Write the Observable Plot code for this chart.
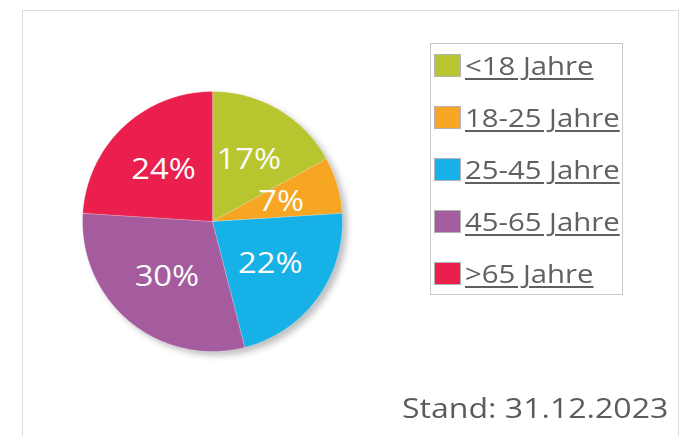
<!DOCTYPE html>
<html>
<head>
<meta charset="utf-8">
<script src="https://cdn.jsdelivr.net/npm/d3@7"></script>
<script src="https://cdn.jsdelivr.net/npm/@observablehq/plot@0.6"></script>
<style>
  html, body { margin: 0; padding: 0; background: #fff; }
  #wrap { position: relative; width: 699px; height: 436px; overflow: hidden; font-family: "Open Sans", sans-serif; }
  #frame { position: absolute; left: 22px; top: 10px; width: 657px; height: 460px; border: 1px solid #dcdcdc; box-sizing: border-box; }
  #chart { position: absolute; left: 0; top: 0; }
  #legend { position: absolute; left: 430px; top: 43px; width: 193px; height: 252px; border: 1px solid #c8c8c8; box-sizing: border-box; }
  .item { position: absolute; left: 3px; display: flex; align-items: center; height: 30px; }
  .sw { width: 27px; height: 23px; border: 1px solid #b4b4b4; box-sizing: border-box; margin-right: 4px; }
  .lab { display: inline-block; font-size: 25.5px; color: #5f6062; text-decoration: underline; text-decoration-thickness: 1.5px; text-underline-offset: 3px; white-space: nowrap; transform: scaleX(1.15); transform-origin: 0 50%; }
  #stand { position: absolute; left: 402px; top: 388px; font-size: 28px; line-height: normal; color: #5a5c60; white-space: nowrap; transform: scaleX(1.145); transform-origin: 0 50%; }
</style>
</head>
<body>
<div id="wrap">
  <div id="frame"></div>
  <div id="chart"></div>
  <div id="legend"></div>
  <div id="stand">Stand: 31.12.2023</div>
</div>
<script>
const categories = ["<18 Jahre", "18-25 Jahre", "25-45 Jahre", "45-65 Jahre", ">65 Jahre"];
const values = [17, 7, 22, 30, 24];
const labels = ["17%", "7%", "22%", "30%", "24%"];
const colors = ["#b7c52f", "#f6a623", "#16b1e6", "#a45c9f", "#ea1f4d"];

// Build slice polygons from the data
const pie = d3.pie().sort(null).value(d => d)(values);
const slices = [];
const labelRows = [];
pie.forEach((p, i) => {
  const a0 = p.startAngle, a1 = p.endAngle;
  slices.push({cat: categories[i], x: 0, y: 0});
  const n = Math.max(2, Math.ceil((a1 - a0) / (Math.PI / 180)));
  for (let k = 0; k <= n; k++) {
    const a = a0 + (a1 - a0) * k / n;
    slices.push({cat: categories[i], x: Math.sin(a), y: Math.cos(a)});
  }
  const m = (a0 + a1) / 2;
  labelRows.push({label: labels[i], x: 0.55 * Math.sin(m), y: 0.55 * Math.cos(m)});
});
const shadow = d3.range(0, 361, 2).map(t => ({x: Math.sin(t * Math.PI / 180) + 0.035, y: Math.cos(t * Math.PI / 180) - 0.03}));

const plot = Plot.plot({
  width: 699,
  height: 436,
  marginLeft: 82,
  marginRight: 357,
  marginTop: 91,
  marginBottom: 85,
  x: {domain: [-1, 1], axis: null},
  y: {domain: [-1, 1], axis: null},
  color: {domain: categories, range: colors},
  style: {background: "transparent", overflow: "visible"},
  marks: [
    Plot.line(shadow, {x: "x", y: "y", fill: "#8a8a8a", stroke: "none", fillOpacity: 0.55, curve: "linear-closed", imageFilter: "blur(3px)"}),
    Plot.line(slices, {x: "x", y: "y", z: "cat", fill: "cat", stroke: "#ffffff", strokeOpacity: 0.35, strokeWidth: 0.8, curve: "linear-closed"}),
    Plot.text(labelRows, {x: "x", y: "y", text: "label", fill: "#fbfbfb", fontSize: 29, fontFamily: "Open Sans", textAnchor: "middle"})
  ]
});
// widen the slice labels slightly, like the reference lettering
d3.select(plot).selectAll("g[aria-label=text] text").each(function() {
  const t = this.getAttribute("transform");
  if (t) {
    this.setAttribute("transform", t + " scale(1.13,1)");
  } else {
    const x = this.getAttribute("x") || 0, y = this.getAttribute("y") || 0;
    this.removeAttribute("x"); this.removeAttribute("y");
    this.setAttribute("transform", `translate(${x},${y}) scale(1.13,1)`);
  }
});
document.getElementById("chart").appendChild(plot);

// Legend built from the same arrays
const legend = document.getElementById("legend");
categories.forEach((c, i) => {
  const it = document.createElement("div");
  it.className = "item";
  it.style.top = (21 + 52 * i - 15) + "px";
  const sw = document.createElement("div");
  sw.className = "sw";
  sw.style.background = colors[i];
  const lab = document.createElement("span");
  lab.className = "lab";
  lab.textContent = c;
  it.appendChild(sw);
  it.appendChild(lab);
  legend.appendChild(it);
});
</script>
</body>
</html>
